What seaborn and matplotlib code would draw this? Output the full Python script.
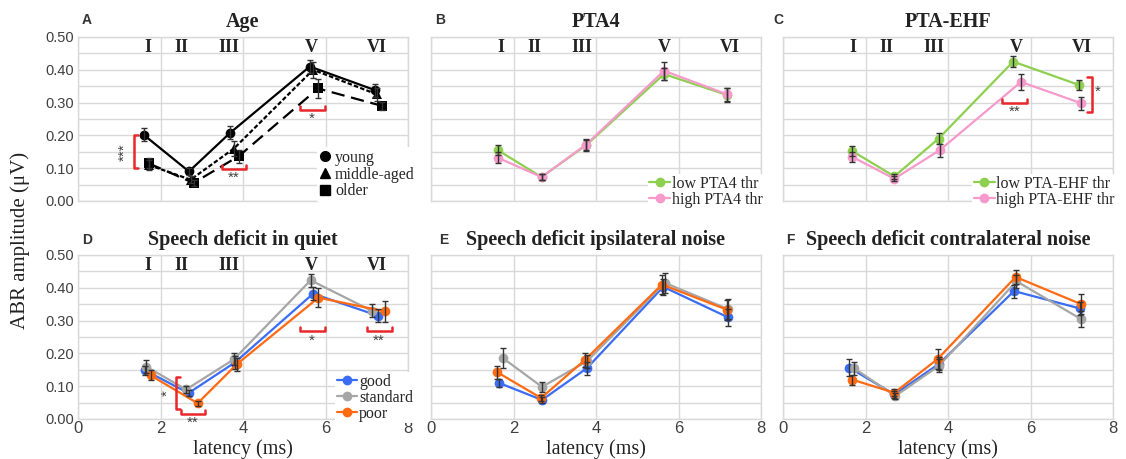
import numpy as np
import pandas as pd
import matplotlib
matplotlib.use("Agg")
import matplotlib.pyplot as plt
import seaborn as sns
from matplotlib.lines import Line2D
from matplotlib.ticker import MultipleLocator

# ---------------- data ----------------
wave_names = ["I", "II", "III", "V", "VI"]
wave_label_x = [1.7, 2.5, 3.65, 5.65, 7.25]

# Panel A: Age
age_groups = ["young", "middle-aged", "older"]
a_young_x = [1.59, 2.69, 3.69, 5.62, 7.20]
a_young_y = [0.202, 0.090, 0.208, 0.410, 0.338]
a_young_e = [0.020, 0.012, 0.020, 0.020, 0.020]
a_mid_x = [1.71, 2.73, 3.78, 5.70, 7.25]
a_mid_y = [0.110, 0.065, 0.160, 0.400, 0.325]
a_mid_e = [0.015, 0.010, 0.022, 0.025, 0.020]
a_old_x = [1.71, 2.80, 3.90, 5.82, 7.37]
a_old_y = [0.115, 0.055, 0.137, 0.343, 0.290]
a_old_e = [0.015, 0.010, 0.020, 0.030, 0.012]

# Panel B: PTA4
b_groups = ["low PTA4 thr", "high PTA4 thr"]
b_low_x = [1.62, 2.68, 3.76, 5.65, 7.18]
b_low_y = [0.155, 0.073, 0.170, 0.387, 0.323]
b_low_e = [0.015, 0.008, 0.017, 0.017, 0.020]
b_high_x = [1.62, 2.68, 3.76, 5.65, 7.18]
b_high_y = [0.132, 0.073, 0.172, 0.397, 0.325]
b_high_e = [0.016, 0.008, 0.017, 0.027, 0.020]

# Panel C: PTA-EHF
c_groups = ["low PTA-EHF thr", "high PTA-EHF thr"]
c_low_x = [1.67, 2.70, 3.77, 5.58, 7.17]
c_low_y = [0.153, 0.075, 0.190, 0.425, 0.354]
c_low_e = [0.015, 0.008, 0.017, 0.017, 0.015]
c_high_x = [1.67, 2.70, 3.80, 5.77, 7.23]
c_high_y = [0.135, 0.068, 0.155, 0.363, 0.298]
c_high_e = [0.015, 0.008, 0.020, 0.025, 0.020]

# Panels D-F: speech deficit groups
sd_groups = ["good", "standard", "poor"]
d_good_x = [1.63, 2.68, 3.80, 5.70, 7.27]
d_good_y = [0.148, 0.079, 0.172, 0.382, 0.315]
d_good_e = [0.015, 0.010, 0.020, 0.020, 0.020]
d_std_x = [1.65, 2.62, 3.78, 5.64, 7.12]
d_std_y = [0.160, 0.090, 0.182, 0.423, 0.330]
d_std_e = [0.020, 0.010, 0.018, 0.020, 0.020]
d_poor_x = [1.76, 2.90, 3.85, 5.83, 7.44]
d_poor_y = [0.133, 0.048, 0.167, 0.370, 0.328]
d_poor_e = [0.015, 0.008, 0.020, 0.030, 0.032]

e_good_x = [1.65, 2.69, 3.78, 5.63, 7.20]
e_good_y = [0.110, 0.058, 0.155, 0.403, 0.310]
e_good_e = [0.012, 0.008, 0.020, 0.025, 0.025]
e_std_x = [1.75, 2.69, 3.78, 5.67, 7.20]
e_std_y = [0.185, 0.098, 0.176, 0.415, 0.335]
e_std_e = [0.030, 0.015, 0.020, 0.030, 0.030]
e_poor_x = [1.60, 2.67, 3.73, 5.60, 7.18]
e_poor_y = [0.143, 0.064, 0.180, 0.410, 0.333]
e_poor_e = [0.020, 0.010, 0.020, 0.030, 0.030]

f_good_x = [1.60, 2.70, 3.78, 5.60, 7.20]
f_good_y = [0.157, 0.075, 0.168, 0.390, 0.337]
f_good_e = [0.025, 0.010, 0.020, 0.020, 0.020]
f_std_x = [1.72, 2.72, 3.78, 5.66, 7.22]
f_std_y = [0.155, 0.070, 0.162, 0.420, 0.305]
f_std_e = [0.020, 0.010, 0.020, 0.020, 0.025]
f_poor_x = [1.68, 2.70, 3.75, 5.64, 7.23]
f_poor_y = [0.120, 0.080, 0.183, 0.433, 0.350]
f_poor_e = [0.015, 0.010, 0.030, 0.020, 0.030]

# significance brackets: (orientation, position, start, end, stars)
a_sig = [("v", 1.35, 0.10, 0.20, "***"), ("h", 0.097, 3.50, 4.07, "**"), ("h", 0.277, 5.37, 5.98, "*")]
c_sig = [("h", 0.300, 5.31, 5.92, "**"), ("vr", 7.48, 0.27, 0.378, "*")]
d_sig = [("v", 2.37, 0.03, 0.127, "*"), ("h", 0.015, 2.49, 3.07, "**"),
         ("h", 0.267, 5.37, 5.98, "*"), ("h", 0.267, 7.00, 7.60, "**")]

titles = ["Age", "PTA4", "PTA-EHF", "Speech deficit in quiet",
          "Speech deficit ipsilateral noise", "Speech deficit contralateral noise"]
letters = ["A", "B", "C", "D", "E", "F"]

# ---------------- style ----------------
sns.set_theme(style="white")
plt.rcParams["font.family"] = ["Liberation Sans", "DejaVu Sans"]
SERIF = ["Liberation Serif", "DejaVu Serif"]
GRID = "#d9d9d9"
TICKC = "#404040"
RED = "#e8262b"
ERRC = "#333333"

pal_age = {"young": "black", "middle-aged": "black", "older": "black"}
pal_b = {"low PTA4 thr": "#8fcf50", "high PTA4 thr": "#f59acb"}
pal_c = {"low PTA-EHF thr": "#8fcf50", "high PTA-EHF thr": "#f59acb"}
pal_sd = {"good": "#3a6cf4", "standard": "#a6a6a6", "poor": "#ff6a12"}


def make_df(groups, xs, ys, es):
    rows = []
    for g, x, y, e in zip(groups, xs, ys, es):
        for xi, yi, ei in zip(x, y, e):
            rows.append({"group": g, "latency": xi, "amp": yi, "err": ei})
    return pd.DataFrame(rows)


df_a = make_df(age_groups, [a_young_x, a_mid_x, a_old_x], [a_young_y, a_mid_y, a_old_y], [a_young_e, a_mid_e, a_old_e])
df_b = make_df(b_groups, [b_low_x, b_high_x], [b_low_y, b_high_y], [b_low_e, b_high_e])
df_c = make_df(c_groups, [c_low_x, c_high_x], [c_low_y, c_high_y], [c_low_e, c_high_e])
df_d = make_df(sd_groups, [d_good_x, d_std_x, d_poor_x], [d_good_y, d_std_y, d_poor_y], [d_good_e, d_std_e, d_poor_e])
df_e = make_df(sd_groups, [e_good_x, e_std_x, e_poor_x], [e_good_y, e_std_y, e_poor_y], [e_good_e, e_std_e, e_poor_e])
df_f = make_df(sd_groups, [f_good_x, f_std_x, f_poor_x], [f_good_y, f_std_y, f_poor_y], [f_good_e, f_std_e, f_poor_e])

fig = plt.figure(figsize=(11.26, 4.59), dpi=100)
W, H = 1126, 459
lefts = [78, 431, 783]
tops = [37, 255]
aw, ah = 330, 164
axes = []
for r in range(2):
    for c in range(3):
        ax = fig.add_axes([lefts[c] / W, 1 - (tops[r] + ah) / H, aw / W, ah / H])
        axes.append(ax)


def style_axis(ax, row, col):
    ax.set_xlim(0, 8)
    ax.set_ylim(0, 0.5)
    ax.xaxis.set_major_locator(MultipleLocator(2))
    ax.yaxis.set_major_locator(MultipleLocator(0.1))
    ax.yaxis.set_minor_locator(MultipleLocator(0.05))
    ax.grid(True, which="both", axis="y", color=GRID, lw=1.0, zorder=0)
    ax.grid(True, which="major", axis="x", color=GRID, lw=1.0, zorder=0)
    ax.set_axisbelow(True)
    for s in ax.spines.values():
        s.set_color(GRID)
        s.set_linewidth(1.0)
    ax.tick_params(axis="both", which="both", length=0, colors=TICKC)
    ax.tick_params(axis="y", labelsize=10.5, pad=3)
    ax.tick_params(axis="x", labelsize=12, pad=1.5)
    ax.set_yticks(np.arange(0, 0.51, 0.1))
    ax.set_yticklabels([f"{v:.2f}" for v in np.arange(0, 0.51, 0.1)] if col == 0 else [])
    if row == 0:
        ax.set_xticklabels([])
    ax.set_xlabel("latency (ms)" if row == 1 else "", fontsize=14.5, family=SERIF, color="#222222", labelpad=2)
    ax.set_ylabel("")


def draw_err(ax, df, zorder=4):
    ax.errorbar(df["latency"], df["amp"], yerr=df["err"], fmt="none", ecolor=ERRC,
                elinewidth=1.0, capsize=2.2, capthick=1.0, zorder=zorder)


def draw_sig(ax, sigs):
    for kind, pos, s0, s1, stars in sigs:
        if kind == "h":
            tip = 0.012
            ax.plot([s0, s0, s1, s1], [pos + tip, pos, pos, pos + tip], color=RED, lw=1.8,
                    clip_on=False, zorder=5, solid_capstyle="round")
            ax.text((s0 + s1) / 2, pos - 0.006, stars, ha="center", va="top", fontsize=11,
                    color=TICKC, clip_on=False)
        elif kind == "v":
            tip = 0.1
            ax.plot([pos + tip, pos, pos, pos + tip], [s0, s0, s1, s1], color=RED, lw=1.8,
                    clip_on=False, zorder=5)
            ax.text(pos - 0.04, (s0 + s1) / 2, stars, ha="right", va="center", fontsize=11,
                    color=TICKC, rotation=90)
        else:
            tip = 0.1
            ax.plot([pos - tip, pos, pos, pos - tip], [s0, s0, s1, s1], color=RED, lw=1.8,
                    clip_on=False, zorder=5)
            ax.text(pos + 0.08, (s0 + s1) / 2 + 0.01, stars, ha="left", va="center", fontsize=11,
                    color=TICKC)


def waves_text(ax):
    for name, x in zip(wave_names, wave_label_x):
        ax.text(x, 0.468, name, ha="center", va="center", fontsize=13, fontweight="bold",
                family=SERIF, color="#222222")


# Panel A
ax = axes[0]
sns.lineplot(data=df_a, x="latency", y="amp", hue="group", style="group", palette=pal_age,
             hue_order=age_groups, style_order=age_groups,
             markers={"young": "o", "middle-aged": "^", "older": "s"},
             dashes={"young": "", "middle-aged": (2, 1), "older": (6, 3)},
             markersize=7, lw=1.6, estimator=None, sort=True, legend=False, ax=ax,
             markeredgewidth=0, zorder=3)
draw_err(ax, df_a)
# Panel B
sns.lineplot(data=df_b, x="latency", y="amp", hue="group", palette=pal_b, hue_order=b_groups,
             marker="o", markersize=7, lw=1.6, estimator=None, legend=False, ax=axes[1],
             markeredgewidth=0, zorder=3)
draw_err(axes[1], df_b)
# Panel C
sns.lineplot(data=df_c, x="latency", y="amp", hue="group", palette=pal_c, hue_order=c_groups,
             marker="o", markersize=7, lw=1.6, estimator=None, legend=False, ax=axes[2],
             markeredgewidth=0, zorder=3)
draw_err(axes[2], df_c)
# Panels D-F
for ax, df in zip(axes[3:], [df_d, df_e, df_f]):
    sns.lineplot(data=df, x="latency", y="amp", hue="group", palette=pal_sd, hue_order=sd_groups,
                 marker="o", markersize=7, lw=1.6, estimator=None, legend=False, ax=ax,
                 markeredgewidth=0, zorder=3)
    draw_err(ax, df)

for i, ax in enumerate(axes):
    style_axis(ax, i // 3, i % 3)
    ax.set_title(titles[i], fontsize=14.5, fontweight="bold", family=SERIF, color="#222222", pad=7)

for ax in [axes[0], axes[1], axes[2], axes[3]]:
    waves_text(ax)

draw_sig(axes[0], a_sig)
draw_sig(axes[2], c_sig)
draw_sig(axes[3], d_sig)

# legends
leg_font = {"family": SERIF, "size": 11.5}
h_a = [Line2D([], [], color="black", marker=m, ls="none", markersize=7) for m in ["o", "^", "s"]]
axes[0].legend(h_a, age_groups, loc="lower right", bbox_to_anchor=(1.03, -0.01), prop=leg_font,
               frameon=True, facecolor="white", edgecolor="none", framealpha=1,
               labelspacing=0.05, handlelength=0.6, handletextpad=0.3, borderpad=0.2,
               borderaxespad=0)
h_b = [Line2D([], [], color=pal_b[g], marker="o", lw=1.6, markersize=6) for g in b_groups]
axes[1].legend(h_b, b_groups, loc="lower right", bbox_to_anchor=(1.01, -0.05), prop=leg_font,
               frameon=True, facecolor="white", edgecolor="none", framealpha=1,
               labelspacing=0.0, handlelength=1.3, handletextpad=0.1, borderpad=0.1, borderaxespad=0)
h_c = [Line2D([], [], color=pal_c[g], marker="o", lw=1.6, markersize=6) for g in c_groups]
axes[2].legend(h_c, c_groups, loc="lower right", bbox_to_anchor=(1.01, -0.05), prop=leg_font,
               frameon=True, facecolor="white", edgecolor="none", framealpha=1,
               labelspacing=0.0, handlelength=1.3, handletextpad=0.1, borderpad=0.1, borderaxespad=0)
h_d = [Line2D([], [], color=pal_sd[g], marker="o", lw=1.6, markersize=6) for g in sd_groups]
axes[3].legend(h_d, sd_groups, loc="lower right", bbox_to_anchor=(1.02, -0.025), prop=leg_font,
               frameon=True, facecolor="white", edgecolor="none", framealpha=1,
               labelspacing=0.0, handlelength=1.3, handletextpad=0.1, borderpad=0.1, borderaxespad=0)

# panel letters
letter_pos = [(82, 20), (435, 20), (773, 20), (82, 240), (439, 240), (786, 240)]
for L, (px, py) in zip(letters, letter_pos):
    fig.text(px / W, 1 - py / H, L, fontsize=10, fontweight="bold", color="#333333",
             ha="left", va="center")

fig.text(20 / W, 1 - 240 / H, "ABR amplitude (\u03bcV)", rotation=90, fontsize=15, family=SERIF,
         color="#222222", ha="center", va="center")

fig.savefig("out.png", dpi=100, facecolor="white")
